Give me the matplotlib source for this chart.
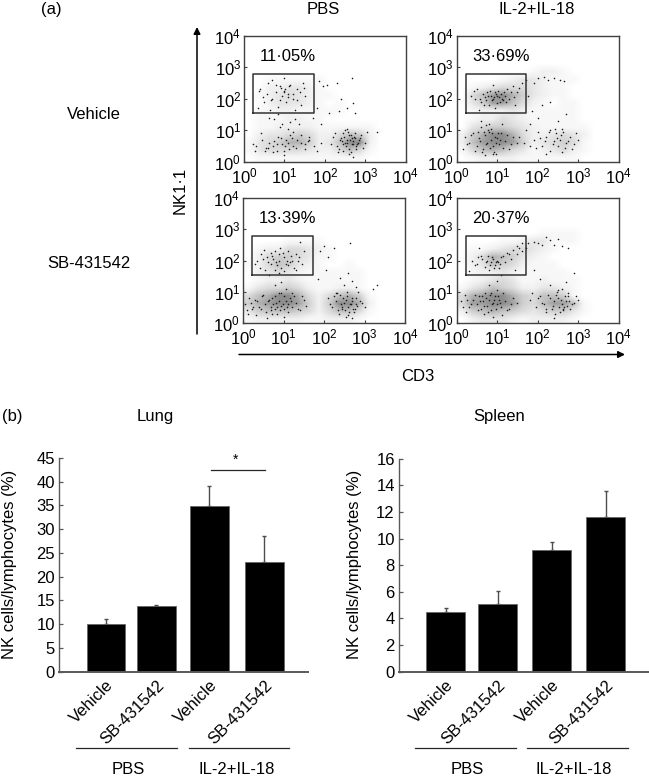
import matplotlib
matplotlib.use('Agg')
import numpy as np
import matplotlib.pyplot as plt
from matplotlib.transforms import ScaledTranslation

plt.rcParams['font.family'] = ['Liberation Sans', 'DejaVu Sans']
plt.rcParams['mathtext.default'] = 'regular'
plt.rcParams['font.size'] = 12

W, H = 649, 779

# bar charts
bar_labels = ['Vehicle', 'SB-431542', 'Vehicle', 'SB-431542']
lung_vals = [10.0, 13.9, 34.9, 23.0]
lung_errs = [1.1, 0.2, 4.1, 5.5]
spleen_vals = [4.5, 5.1, 9.15, 11.6]
spleen_errs = [0.3, 0.95, 0.6, 2.0]

# dot plots: estimated dot density by eye, 4 cells per decade, top row = 10^3.75
# (the original dots can't be read one by one, so shade + the visible dark dots)
dens_pbs_veh = [
    '0000000000000000', '0000000000000000', '0000000000000000', '0000000000000000',
    '0000000000000000', '0011111100000000', '0022332100000000', '0123432110000000',
    '0023332101000000', '0112211111000000', '0111221100000000', '0112222111111000',
    '0233454224652000', '1345775236992000', '1344443224641000', '0111111111110000']
dens_il_veh = [
    '0000000000000000', '0000000000000000', '0000000000000000', '0000000000000000',
    '0000000122100000', '0000123321110000', '0123444321100000', '0468975321100000',
    '0358864210110000', '0122232111110000', '0122432111110000', '0345543211111000',
    '2579974223432000', '2689985234541000', '1467643123421000', '0122221111110000']
dens_pbs_sb = [
    '0000000000000000', '0000000000000000', '0000000000000000', '0000000000000000',
    '0000000000000000', '0000111100000000', '0122443210000000', '0245543110000000',
    '1246532100100000', '0234321111110000', '0122321111110000', '1344542112210000',
    '4679974246751000', '5789985259972000', '3566654246641000', '1222221122210000']
dens_il_sb = [
    '0000000000000000', '0000000000000000', '0000000000000000', '0000000000000000',
    '0000000011110000', '0000112331110000', '0112344321000000', '0247653210000000',
    '0236542111000000', '0122321111100000', '0123431121110000', '1346542233210000',
    '4789975466510000', '4889985468861000', '2567654345531000', '0233321222210000']

# visible individual dots (decades)
x_pbs_veh = [.4,.5,.6,.7,.8,.85,.9,.95,1.0,1.05,1.1,1.15,1.2,1.3,1.4,1.45,.35,.65,1.25,1.5,1.0,.7,
             1.85,1.95,2.05,2.3,2.35,2.55,2.4,2.67,2.7,2.75,1.8,2.1,1.7,1.9,3.3,
             .3,.45,.6,.75,.85,.95,1.0,1.05,1.1,1.15,1.2,1.3,1.4,1.5,1.6,.9,1.0,
             2.2,2.3,2.4,2.45,2.5,2.55,2.6,2.65,2.7,2.75,2.8,2.85,2.5,2.6,2.7,2.9,3.0,3.05,
             .92,.98,1.08,.88,1.02,.78,1.12,1.22,1.32,.58,.48,.38,.68,1.38,1.48,.22,.28,.72,.82,1.18,1.28,1.58,
             .42,.52,.62,.92,1.02,1.12,1.22,.72,.82,1.42,1.52,1.62,1.72,1.8,1.9,
             2.15,2.25,2.35,2.42,2.48,2.52,2.58,2.62,2.68,2.72,2.78,2.82,2.88,2.32,2.44,2.56,2.66,2.76,2.95,
             2.38,2.54,2.64,2.74,2.46,2.59,2.69,.55,.75,1.15,1.35,.63,1.08,1.27,.95,.83]
y_pbs_veh = [2.3,1.9,2.5,2.0,2.2,1.75,2.4,2.1,2.25,1.9,2.15,2.45,2.0,2.3,1.8,2.5,1.7,1.65,1.65,2.1,2.65,2.6,
             2.55,2.4,2.45,2.5,1.6,1.7,2.0,2.65,1.85,1.55,1.7,1.55,1.4,1.2,.95,
             .5,.7,.45,.65,.8,.55,.35,.7,.6,.85,.5,.7,.6,.4,.8,1.1,.2,
             .8,.5,.75,.9,.6,.7,.4,.85,.65,.75,.55,.7,1.0,.25,.15,.85,.6,.95,
             2.35,2.2,2.05,1.95,2.3,2.45,2.4,2.15,1.95,2.15,2.05,2.25,1.95,2.2,2.35,.55,.35,.3,.55,.75,.45,.65,
             .9,.35,.6,.75,.5,.4,.95,.5,.35,.85,.55,.7,.5,.35,.6,
             .55,.9,.4,.65,.8,.5,.95,.7,.55,.8,.4,.6,.75,.3,.55,.6,.75,.5,.45,.7,
             1.05,.3,.9,.35,.85,.55,.45,1.35,1.25,1.2,1.4,1.05,1.35,1.2,1.5,.3]
x_il_veh = [.35,.5,.6,.7,.75,.8,.85,.9,.95,1.0,1.0,1.05,1.1,1.15,1.2,1.25,1.3,1.4,1.45,1.5,1.6,1.7,1.75,.55,.9,
            1.9,2.0,2.15,2.25,2.4,2.55,2.65,1.85,2.1,1.8,2.0,2.3,2.5,2.7,
            .2,.3,.4,.5,.55,.6,.65,.7,.75,.8,.85,.9,.95,1.0,1.05,1.1,1.2,1.3,1.4,.6,.8,.9,.7,
            1.9,2.0,2.1,2.2,2.3,2.4,2.45,2.5,2.55,2.6,2.7,2.8,2.9,3.0,2.3,2.6,
            .45,.65,.72,.82,.88,.92,.98,1.03,1.08,1.12,1.18,1.22,1.35,.58,.78,1.42,1.55,.42,.68,.95,
            .25,.35,.45,.52,.58,.62,.68,.72,.78,.82,.88,.92,.98,1.02,1.08,1.15,1.25,1.35,1.5,.15,.72,.85,.98,1.12,
            1.55,1.65,1.95,2.05,2.18,2.28,2.38,2.48,2.58,2.68,2.75,2.2,2.42,2.62,2.85,2.95,1.7,1.8]
y_il_veh = [2.1,2.3,1.9,2.05,2.2,1.8,2.1,2.0,2.2,2.1,1.85,2.05,2.15,1.95,2.1,2.3,2.0,2.4,1.8,2.2,2.5,2.6,2.1,1.65,2.45,
            2.5,2.65,2.7,2.6,2.65,2.6,2.55,1.6,1.8,1.2,1.4,1.9,1.3,1.5,
            .8,.6,.9,.5,.75,1.1,.4,.85,.6,.95,.7,.5,.8,.75,.55,.9,.65,.4,.8,1.3,1.2,.25,.2,
            .7,.95,.5,.8,.35,.65,.9,.5,.7,.3,.6,.8,.55,.7,1.0,1.05,
            2.0,2.15,1.95,2.25,1.95,2.05,2.15,2.25,1.9,2.0,2.2,1.9,2.2,2.0,2.1,2.05,2.35,2.25,1.8,1.7,
            .55,.85,.35,.95,.65,.3,.95,.55,1.0,.45,.9,.3,.6,.9,.7,.45,.85,.55,.6,.4,1.15,1.05,.25,1.2,
            .8,.6,.45,.75,.65,.95,.55,.75,.85,.45,.65,.25,1.05,.95,.4,.9,1.0,.5]
x_pbs_sb = [.3,.45,.55,.6,.7,.75,.8,.85,.9,.95,1.0,1.05,1.1,1.15,1.2,1.3,1.4,1.5,.9,.65,1.3,1.45,
            1.9,2.0,2.1,2.25,2.4,2.6,2.65,2.5,2.7,2.8,2.3,3.2,3.3,1.85,2.05,
            .05,.15,.25,.35,.45,.5,.55,.65,.7,.75,.8,.85,.9,.95,1.0,1.05,1.1,1.15,1.2,1.3,1.4,1.5,.8,.95,1.0,.6,
            2.1,2.2,2.3,2.4,2.45,2.5,2.55,2.6,2.65,2.7,2.75,2.8,2.9,3.0,2.55,2.7,2.85,
            .35,.5,.62,.72,.82,.88,.98,1.08,1.18,1.25,1.35,.52,.78,.92,1.02,1.12,1.38,.42,.68,
            .1,.2,.3,.4,.48,.58,.62,.68,.72,.78,.82,.88,.92,.98,1.02,1.08,1.12,1.18,1.25,1.35,1.45,1.55,.12,.22,.32,.72,.85,.95,1.05,1.2,
            2.15,2.25,2.35,2.42,2.48,2.52,2.58,2.62,2.68,2.72,2.78,2.82,2.32,2.44,2.56,2.66,2.76,2.95,2.38,2.6]
y_pbs_sb = [1.9,2.2,1.7,2.1,1.9,2.05,2.3,1.85,2.0,1.75,2.1,1.9,2.3,1.95,2.0,2.2,2.6,2.3,1.6,1.55,1.7,1.9,
            2.3,2.45,2.1,2.4,1.45,1.6,2.55,1.2,1.35,1.15,.95,1.1,1.2,1.4,1.7,
            .6,.8,.5,.7,.45,.9,.6,.75,.4,.6,.85,.5,.7,.55,.45,.7,.6,.8,.5,.65,.4,.75,1.2,1.3,.2,.15,
            .8,.5,.7,.9,.45,.65,.75,.5,.6,.8,.35,.6,.7,.5,.2,.15,1.0,
            2.0,2.05,1.95,2.15,1.95,2.2,2.25,2.0,2.15,1.75,2.0,2.35,1.7,2.4,1.65,1.85,2.1,1.75,2.25,
            .4,.65,.75,.5,.85,.35,.7,.5,.8,.45,.65,.95,.4,.6,.85,.5,.35,.7,.85,.45,.85,.55,.3,.45,.25,.3,.3,.95,1.1,.95,
            .6,.85,.4,.6,.8,.4,.85,.35,.7,.45,.8,.55,.95,.5,1.0,.6,.45,.65,.3,.25]
x_il_sb = [.3,.5,.6,.7,.75,.8,.85,.9,.95,1.0,1.05,1.1,1.2,1.3,1.4,1.5,1.6,1.7,1.45,.55,1.1,
           1.75,1.9,2.0,2.1,2.2,2.3,2.4,2.5,2.6,2.75,2.05,2.3,2.5,2.7,2.9,1.9,
           .1,.2,.3,.4,.5,.55,.6,.65,.7,.75,.8,.85,.9,.95,1.0,1.05,1.1,1.2,1.3,1.4,.8,1.0,.9,
           1.8,1.95,2.05,2.15,2.25,2.35,2.4,2.5,2.55,2.6,2.65,2.7,2.75,2.8,2.9,3.0,2.4,2.6,
           .45,.62,.72,.82,.88,.98,1.08,1.15,1.25,1.35,1.55,.52,.78,.92,1.02,1.48,1.62,.38,
           .15,.25,.35,.45,.52,.58,.62,.68,.72,.78,.82,.88,.92,.98,1.02,1.08,1.15,1.25,1.35,1.5,.22,.68,.85,1.0,1.12,
           1.85,2.0,2.1,2.2,2.3,2.38,2.45,2.52,2.58,2.63,2.68,2.72,2.78,2.85,2.95,2.2,2.42,2.62,2.48,2.75]
y_il_sb = [1.65,1.9,2.15,1.8,2.0,1.7,1.95,2.05,1.85,2.0,1.75,2.1,1.95,2.2,2.35,2.45,2.55,2.4,1.7,2.4,1.55,
           2.55,2.6,2.55,2.5,2.75,2.65,2.5,2.7,2.45,2.4,1.4,1.2,1.05,1.3,1.6,1.7,
           .7,.9,.5,.75,.6,.85,.45,.7,.95,.55,.75,.4,.65,.85,.6,.75,.5,.7,.45,.8,1.2,1.35,.2,
           .75,.5,.85,.6,.9,.45,.7,.8,.35,.6,.5,.7,.85,.45,.65,.75,.15,1.1,
           1.85,2.05,1.95,1.85,2.1,1.95,1.9,2.15,2.25,2.05,2.4,2.1,2.15,1.75,1.95,2.2,2.3,2.0,
           .5,.75,.6,.9,.4,.7,.85,.55,.8,.35,.9,.6,.75,.45,.85,.65,.95,.4,.6,.65,.35,.3,.95,1.05,.25,
           .95,.8,.65,.45,.8,.55,.9,.5,.75,.4,.85,.55,.7,.6,.85,.35,.3,.45,1.0,.95]

# panel text, density, dots
dot_panels = [
    (dens_pbs_veh, x_pbs_veh, y_pbs_veh, '11·05%', (244, 405.7, 35.7, 161.7)),
    (dens_il_veh, x_il_veh, y_il_veh, '33·69%', (456.7, 618.7, 35.7, 161.7)),
    (dens_pbs_sb, x_pbs_sb, y_pbs_sb, '13·39%', (243, 405, 198, 323)),
    (dens_il_sb, x_il_sb, y_il_sb, '20·37%', (456.7, 618.7, 198, 323)),
]
decades = [0, 1, 2, 3, 4]


def px_axes(left, right, top, bottom):
    return fig.add_axes([left / W, 1 - bottom / H, (right - left) / W, (bottom - top) / H])


fig = plt.figure(figsize=(W / 100, H / 100), dpi=100)

for dens, xs, ys, pct, box in dot_panels:
    ax = px_axes(*box)
    grid = np.array([[int(c) for c in row] for row in dens], dtype=float)
    ax.imshow(grid, extent=(0, 4, 0, 4), cmap='Greys', vmin=0, vmax=17,
              interpolation='bilinear', aspect='auto')
    # hand-typed lists drifted apart by a few entries, pair up what's there
    n = min(len(xs), len(ys))
    ax.scatter(xs[:n], ys[:n], s=1.3, color='0.1', linewidths=0, zorder=2)
    ax.set_xlim(0, 4)
    ax.set_ylim(0, 4)
    ax.plot([0.23, 1.72, 1.72, 0.23, 0.23], [1.55, 1.55, 2.77, 2.77, 1.55],
            color='0.2', lw=1.1, zorder=3)
    ax.text(0.38, 3.33, pct, ha='left', va='center', fontsize=12)
    ax.set_xticks(decades)
    ax.set_yticks(decades)
    ax.set_xticklabels(['$10^{%d}$' % d for d in decades])
    ax.set_yticklabels(['$10^{%d}$' % d for d in decades])
    ax.tick_params(direction='in', length=2.5, width=0.8, color='0.25')
    ax.tick_params(axis='x', pad=3.5)
    ax.tick_params(axis='y', pad=2)
    for s in ax.spines.values():
        s.set_color('0.25')
        s.set_linewidth(1.0)

# bar charts
bar_specs = [
    (lung_vals, lung_errs, (59, 308, 458, 671.7), (0, 45), list(range(0, 46, 5)),
     [106, 156.5, 209.5, 264.5]),
    (spleen_vals, spleen_errs, (399, 649, 458.7, 671.7), (0, 16), list(range(0, 17, 2)),
     [445.5, 497.5, 551.5, 605.5]),
]
for vals, errs, box, ylim, yt, centers in bar_specs:
    ax = px_axes(*box)
    ax.set_xlim(box[0], box[1])
    ax.bar(centers, vals, width=38.5, color='black', edgecolor='0.4', linewidth=0.6, zorder=2)
    ax.errorbar(centers, vals, yerr=[[0] * 4, errs], fmt='none', ecolor='0.3',
                elinewidth=1.0, capsize=1.5, capthick=1.0, zorder=1)
    ax.set_ylim(*ylim)
    ax.set_yticks(yt)
    ax.set_xticks(centers)
    ax.set_xticklabels(bar_labels, rotation=45, ha='right', va='top', rotation_mode='anchor')
    offset = ScaledTranslation(8 / 100, 3 / 100, fig.dpi_scale_trans)
    for lab in ax.get_xticklabels():
        lab.set_transform(lab.get_transform() + offset)
    ax.tick_params(axis='x', length=0, pad=4)
    ax.tick_params(axis='y', direction='in', length=3, width=0.9, color='0.35', pad=3)
    ax.spines['top'].set_visible(False)
    ax.spines['right'].set_visible(False)
    ax.spines['left'].set_color('0.35')
    ax.spines['bottom'].set_color('0.35')
    ax.spines['left'].set_linewidth(1.0)
    ax.spines['bottom'].set_linewidth(1.4)
    ax.patch.set_alpha(0)

# everything else sits on an overlay in pixel coords
ov = fig.add_axes([0, 0, 1, 1], zorder=10)
ov.set_xlim(0, W)
ov.set_ylim(H, 0)
ov.axis('off')
ov.patch.set_alpha(0)


def label(x, y, s, **kw):
    ov.text(x, y, s, ha='center', va='center', **kw)


label(51, 9, '(a)')
label(323, 9, 'PBS')
label(537, 9, 'IL-2+IL-18')
label(94, 114, 'Vehicle')
label(89, 263, 'SB-431542')
label(180, 190, 'NK1·1', rotation=90)
label(418, 376, 'CD3')
label(12, 416, '(b)')
label(155, 416, 'Lung')
label(499, 416, 'Spleen')
label(10, 564, 'NK cells/lymphocytes (%)', rotation=90)
label(354, 564, 'NK cells/lymphocytes (%)', rotation=90)
label(236, 460, '*', fontsize=10)
label(128, 769, 'PBS')
label(237, 769, 'IL-2+IL-18')
label(467, 769, 'PBS')
label(574, 769, 'IL-2+IL-18')

ov.annotate('', xy=(197, 27), xytext=(197, 334),
            arrowprops=dict(arrowstyle='-|>', color='black', lw=1.1, mutation_scale=10, shrinkA=0, shrinkB=0))
ov.annotate('', xy=(625, 354.5), xytext=(239, 354.5),
            arrowprops=dict(arrowstyle='-|>', color='black', lw=1.1, mutation_scale=10, shrinkA=0, shrinkB=0))

for x0, x1, y in [(211, 265, 469.5), (76, 177, 748), (189, 289, 748), (415, 516, 748), (527, 628, 748)]:
    ov.plot([x0, x1], [y, y], color='0.15', lw=0.9)

fig.savefig('out.png', dpi=100)
